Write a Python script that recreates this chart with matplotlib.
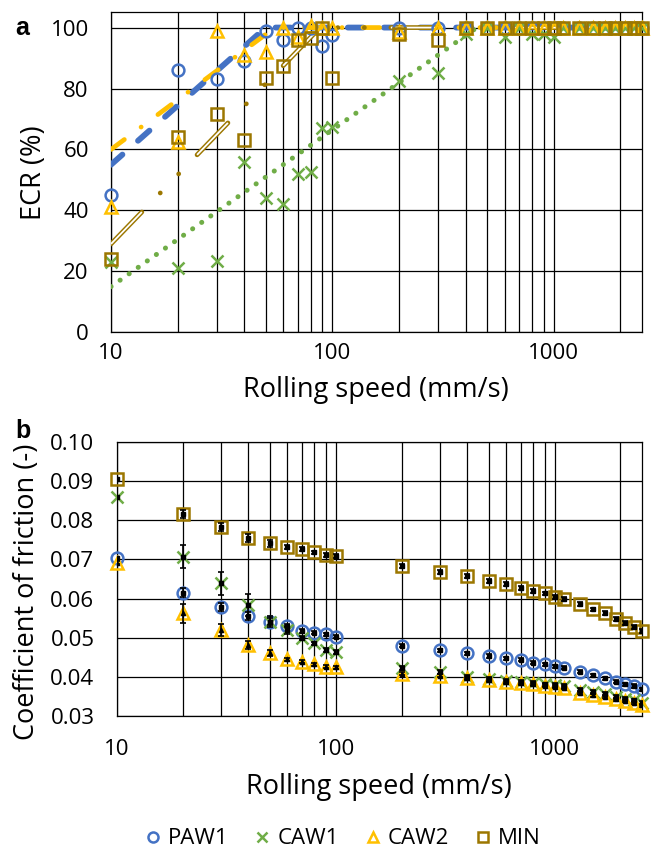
import numpy as np
import matplotlib
matplotlib.use("Agg")
from matplotlib import pyplot as plt
from matplotlib.ticker import FixedLocator, FixedFormatter, FuncFormatter, LogLocator, NullFormatter

plt.rcParams['font.family'] = ['Open Sans', 'DejaVu Sans']
plt.rcParams['lines.scale_dashes'] = False

# colours
c_paw1 = '#4472C4'
c_caw1 = '#70AD47'
c_caw2 = '#FFC000'
c_min = '#9C7700'

# ---- panel a: ECR (%) ----
speed_a = [10, 20, 30, 40, 50, 60, 70, 80, 90, 100, 200, 300, 400, 500, 600, 700,
           800, 900, 1000, 1100, 1300, 1500, 1700, 1900, 2100, 2300, 2500]
ecr_paw1 = [45, 86, 83, 89, 99, 96, 100, 100, 94, 97.5, 100, 100, 100, 100, 100, 100,
            100, 100, 100, 100, 100, 100, 100, 100, 100, 100, 100]
ecr_caw1 = [23, 21, 23.5, 56, 44, 42, 52, 52.5, 67, 67.5, 82.5, 85, 98, 100, 97, 100,
            98, 98, 97, 100, 100, 100, 100, 100, 100, 100, 100]
ecr_caw2 = [41, 62.5, 99, 91, 92, 100, 97, 100.5, 100, 100, 98.5, 100, 100, 100, 100, 100,
            100, 100, 100, 100, 100, 100, 100, 100, 100, 100, 100]
ecr_min = [24, 64, 71.5, 63, 83.5, 87.5, 96, 96.5, 100, 83.5, 98, 96, 100, 100, 100, 100,
           100, 100, 100, 100, 100, 100, 100, 100, 100, 100, 100]

# trend lines
trend_paw1_x, trend_paw1_y = [10, 50, 2500], [55, 100, 100]
trend_caw2_x, trend_caw2_y = [10, 55, 2500], [60, 100, 100]
trend_caw1_x, trend_caw1_y = [10, 450, 2500], [15, 100, 100]
trend_min_x, trend_min_y = [10, 88, 2500], [29, 100, 100]

# ---- panel b: coefficient of friction ----
speed_b = speed_a
cof_paw1 = [0.0703, 0.0615, 0.0578, 0.0555, 0.0541, 0.0530, 0.0517, 0.0512, 0.0508, 0.0502,
            0.0479, 0.0468, 0.0460, 0.0453, 0.0447, 0.0443, 0.0436, 0.0432, 0.0426, 0.0423,
            0.0413, 0.0404, 0.0396, 0.0387, 0.0380, 0.0376, 0.0368]
cof_caw1 = [0.0859, 0.0707, 0.0639, 0.0583, 0.0541, 0.0520, 0.0499, 0.0485, 0.0468, 0.0464,
            0.0421, 0.0413, 0.0400, 0.0395, 0.0390, 0.0387, 0.0383, 0.0380, 0.0378, 0.0375,
            0.0366, 0.0360, 0.0355, 0.0349, 0.0344, 0.0339, 0.0333]
cof_caw2 = [0.0692, 0.0562, 0.0520, 0.0481, 0.0460, 0.0445, 0.0438, 0.0432, 0.0425, 0.0424,
            0.0407, 0.0402, 0.0396, 0.0391, 0.0386, 0.0383, 0.0380, 0.0377, 0.0374, 0.0372,
            0.0359, 0.0353, 0.0349, 0.0342, 0.0338, 0.0333, 0.0327]
cof_min = [0.0905, 0.0816, 0.0784, 0.0756, 0.0741, 0.0733, 0.0726, 0.0718, 0.0711, 0.0709,
           0.0683, 0.0669, 0.0658, 0.0645, 0.0637, 0.0626, 0.0620, 0.0613, 0.0605, 0.0598,
           0.0586, 0.0572, 0.0562, 0.0548, 0.0538, 0.0526, 0.0517]
err_paw1 = [0.0004, 0.0012, 0.0010, 0.0010, 0.0008] + [0.0004] * 22
err_caw1 = [0.0004, 0.0030, 0.0030, 0.0028, 0.0015, 0.0010] + [0.0005] * 21
err_caw2 = [0.0004, 0.0025, 0.0015, 0.0010, 0.0008] + [0.0004] * 22
err_min = [0.0004, 0.0010, 0.0010, 0.0010, 0.0008] + [0.0005] * 22

legend_labels = ['PAW1', 'CAW1', 'CAW2', 'MIN']

fig = plt.figure(figsize=(6.54, 8.5), dpi=100)
ax1 = fig.add_axes([0.1697, 0.609, 0.8115, 0.3765])
ax2 = fig.add_axes([0.1784, 0.158, 0.8028, 0.3216])

fs_tick = 16
fs_lab = 19.5


def style_axis(ax, xpad, labpad):
    ax.set_xscale('log')
    ax.set_xlim(10, 2500)
    ax.xaxis.set_major_locator(FixedLocator([10, 100, 1000]))
    ax.xaxis.set_major_formatter(FixedFormatter(['10', '100', '1000']))
    ax.xaxis.set_minor_locator(LogLocator(base=10, subs=np.arange(2, 10)))
    ax.xaxis.set_minor_formatter(NullFormatter())
    ax.grid(True, which='both', axis='x', color='black', lw=0.9)
    ax.grid(True, which='major', axis='y', color='black', lw=0.9)
    ax.set_axisbelow(True)
    ax.tick_params(which='both', length=0, labelsize=fs_tick)
    ax.tick_params(axis='y', pad=16)
    ax.tick_params(axis='x', pad=xpad)
    for s in ax.spines.values():
        s.set_color('black')
        s.set_linewidth(0.9)
    ax.set_xlabel('Rolling speed (mm/s)', fontsize=fs_lab, labelpad=labpad)


# panel a
style_axis(ax1, 8, 8)
ax1.set_ylim(0, 105)
ax1.set_yticks([0, 20, 40, 60, 80, 100])
ax1.set_ylabel('ECR (%)', fontsize=fs_lab, labelpad=2)

ax1.plot(trend_caw1_x, trend_caw1_y, color=c_caw1, lw=3.6, dashes=(0.1, 7.9),
         dash_capstyle='round', zorder=3)
ax1.plot(trend_paw1_x, trend_paw1_y, color=c_paw1, lw=4.2, dashes=(11, 15),
         dash_capstyle='round', zorder=3)
ax1.plot(trend_caw2_x, trend_caw2_y, color=c_caw2, lw=3.4, dashes=(12, 15, 0.1, 15),
         dash_capstyle='round', zorder=3)
ax1.plot(trend_min_x, trend_min_y, color=c_min, lw=3.4, dashes=(32, 19, 0.1, 19, 0.1, 19),
         dash_capstyle='round', zorder=3)
ax1.plot(trend_min_x, trend_min_y, color='white', lw=1.3, ls=(0, (32, 57.2)),
         dash_capstyle='butt', zorder=3)

mk = dict(ls='none', ms=8.5, mew=1.8, mfc='none', zorder=4, clip_on=False)
ax1.plot(speed_a, ecr_paw1, marker='o', mec=c_paw1, **mk)
ax1.plot(speed_a, ecr_caw1, marker='x', mec=c_caw1, **mk)
ax1.plot(speed_a, ecr_caw2, marker='^', mec=c_caw2, **mk)
ax1.plot(speed_a, ecr_min, marker='s', mec=c_min, **mk)

# panel b
style_axis(ax2, 17, 9)
ax2.set_ylim(0.03, 0.10)
ax2.set_yticks(np.arange(0.03, 0.1001, 0.01))
ax2.yaxis.set_major_formatter(FuncFormatter(lambda v, p: '%.2f' % v))
ax2.set_ylabel('Coefficient of friction (-)', fontsize=fs_lab)
ax2.yaxis.set_label_coords(-0.145, 0.455)

h1, = ax2.plot(speed_b, cof_paw1, marker='o', mec=c_paw1, **mk)
h2, = ax2.plot(speed_b, cof_caw1, marker='x', mec=c_caw1, **mk)
h3, = ax2.plot(speed_b, cof_caw2, marker='^', mec=c_caw2, **mk)
h4, = ax2.plot(speed_b, cof_min, marker='s', mec=c_min, **mk)

eb = dict(color='black', ecolor='black', elinewidth=1.2, capsize=2, capthick=1.2,
          ls='none', ms=3, zorder=5)
ax2.errorbar(speed_b, cof_paw1, yerr=err_paw1, marker='s', **eb)
ax2.errorbar(speed_b, cof_caw1, yerr=err_caw1, marker='s', **eb)
ax2.errorbar(speed_b, cof_caw2, yerr=err_caw2, marker='^', **eb)
ax2.errorbar(speed_b, cof_min, yerr=err_min, marker='s', **eb)

fig.text(0.023, 0.9588, 'a', fontsize=18, fontweight='bold', family='Liberation Sans',
         ha='left', va='baseline')
fig.text(0.023, 0.4847, 'b', fontsize=18, fontweight='bold', family='Liberation Sans',
         ha='left', va='baseline')

fig.legend([h1, h2, h3, h4], legend_labels, loc='center', bbox_to_anchor=(0.522, 0.013),
           ncol=4, frameon=False, fontsize=16, handletextpad=0.2,
           columnspacing=1.0, handlelength=1.0, markerscale=0.85, borderpad=0)

fig.savefig('out.png', dpi=100)
